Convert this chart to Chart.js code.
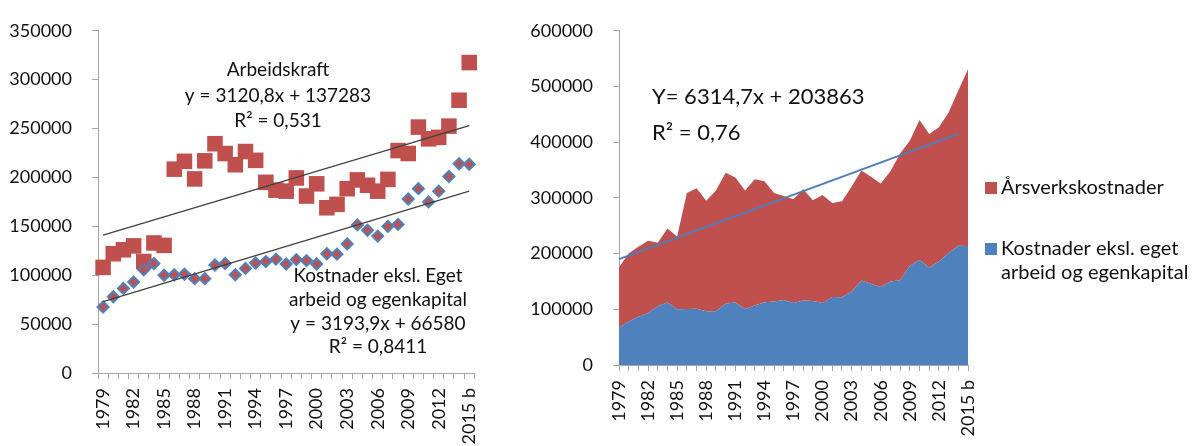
<!DOCTYPE html>
<html>
<head>
<meta charset="utf-8">
<script src="https://cdn.jsdelivr.net/npm/chart.js@4.4.1/dist/chart.umd.min.js"></script>
<style>
  html, body { margin: 0; padding: 0; background: #fff; }
  body { width: 1198px; height: 446px; position: relative; overflow: hidden; }
  #leftBox { position: absolute; left: 0; top: 0; width: 500px; height: 446px; }
  #rightBox { position: absolute; left: 520px; top: 0; width: 678px; height: 446px; }
</style>
</head>
<body>
<div id="leftBox"><canvas id="leftChart"></canvas></div>
<div id="rightBox"><canvas id="rightChart"></canvas></div>
<script>
// data
const years = ['1979','1980','1981','1982','1983','1984','1985','1986','1987','1988',
  '1989','1990','1991','1992','1993','1994','1995','1996','1997','1998','1999','2000',
  '2001','2002','2003','2004','2005','2006','2007','2008','2009','2010','2011','2012',
  '2013','2014','2015 b'];

const arbeidskraft = [108000, 122000, 126000, 130000, 114000, 133000, 130500, 208500, 216500, 198500,
  217000, 234500, 224500, 213000, 226500, 217500, 195000, 187000, 186000, 199500,
  181000, 193500, 169000, 172500, 188500, 197500, 192000, 186000, 198000, 227500,
  224500, 251500, 239500, 241000, 252500, 279000, 317500];

const kostnader = [67500, 78000, 86500, 93000, 105500, 112000, 100000, 100500, 101000, 96500,
  96500, 110500, 112000, 100500, 107000, 112500, 114000, 116500, 111500, 116000,
  115000, 111500, 122000, 121500, 132000, 151500, 146000, 140000, 150000, 152000,
  178000, 188500, 175000, 186000, 201000, 214000, 213500];

// trend line end points
const trendArbeidYears = ['1979', '2015 b'];
const trendArbeidValues = [141000, 253000];
const trendKostYears = ['1979', '2015 b'];
const trendKostValues = [73000, 186000];
const trendTotalYears = ['1979', '2014'];
const trendTotalValues = [190000, 415000];

const leftYTicks = [0, 50000, 100000, 150000, 200000, 250000, 300000, 350000];
const rightYTicks = [0, 100000, 200000, 300000, 400000, 500000, 600000];

const RED = '#C0504D';
const BLUE = '#4F81BD';
const AXIS = '#A6A6A6';

Chart.defaults.font.family = 'Lato';
Chart.defaults.font.size = 18;
Chart.defaults.color = '#111';

// text blocks (trend equations, legend) drawn on the canvas
const textPlugin = {
  id: 'texts',
  afterDraw(chart, args, opts) {
    const ctx = chart.ctx;
    ctx.save();
    (opts.items || []).forEach(it => {
      ctx.font = it.size + 'px Lato';
      ctx.fillStyle = '#111';
      ctx.textAlign = it.align || 'center';
      ctx.textBaseline = 'middle';
      it.lines.forEach((line, i) => ctx.fillText(line, it.x, it.y + i * it.gap));
    });
    (opts.legend || []).forEach(lg => {
      const ds = chart.data.datasets[lg.dataset];
      ctx.fillStyle = ds.backgroundColor;
      ctx.fillRect(lg.x, lg.y - 6, 12, 12);
      ctx.fillStyle = '#111';
      ctx.font = lg.size + 'px Lato';
      ctx.textAlign = 'left';
      ctx.textBaseline = 'middle';
      lg.lines.forEach((line, i) => ctx.fillText(line, lg.x + 16, lg.y + i * lg.gap));
    });
    ctx.restore();
  }
};

function fixWidth(w) { return s => { s.width = w; }; }
function fixHeight(h) { return s => { s.height = h; }; }
function setTicks(list) { return s => { s.ticks = list.map(v => ({ value: v })); }; }

function everyThird(val, i) { return i % 3 === 0 ? this.getLabelForValue(val) : ''; }
function plainNumber(v) { return String(v); }

// left chart: markers + trend lines
new Chart(document.getElementById('leftChart'), {
  type: 'line',
  data: {
    labels: years,
    datasets: [
      { label: 'Trend arbeidskraft', data: trendArbeidYears.map((x, i) => ({ x, y: trendArbeidValues[i] })),
        borderColor: '#404040', borderWidth: 1.2, pointRadius: 0, order: 0 },
      { label: 'Trend kostnader', data: trendKostYears.map((x, i) => ({ x, y: trendKostValues[i] })),
        borderColor: '#404040', borderWidth: 1.2, pointRadius: 0, order: 0 },
      { label: 'Kostnader eksl. Eget arbeid og egenkapital', data: kostnader, showLine: false,
        pointStyle: 'rectRot', pointRadius: 5.5, pointBackgroundColor: RED,
        pointBorderColor: BLUE, pointBorderWidth: 2, clip: false, order: 1 },
      { label: 'Arbeidskraft', data: arbeidskraft, showLine: false,
        pointStyle: 'rect', pointRadius: 11, pointBackgroundColor: RED,
        pointBorderColor: RED, pointBorderWidth: 0, clip: false, order: 2 }
    ]
  },
  options: {
    responsive: true,
    maintainAspectRatio: false,
    animation: false,
    layout: { padding: { top: 19, right: 8, left: 0, bottom: 0 } },
    plugins: {
      legend: { display: false },
      tooltip: { enabled: false },
      texts: {
        items: [
          { x: 278, y: 70, gap: 25.5, size: 19, lines: ['Arbeidskraft', 'y = 3120,8x + 137283', 'R² = 0,531'] },
          { x: 378, y: 276, gap: 23.7, size: 19, lines: ['Kostnader eksl. Eget', 'arbeid og egenkapital', 'y = 3193,9x + 66580', 'R² = 0,8411'] }
        ]
      }
    },
    scales: {
      x: {
        offset: true,
        grid: { offset: true, drawOnChartArea: false, tickLength: 6, color: AXIS },
        border: { color: AXIS },
        ticks: { autoSkip: false, maxRotation: 90, minRotation: 90, padding: 9, callback: everyThird },
        afterFit: fixHeight(73)
      },
      y: {
        min: 0, max: 350000,
        grid: { drawOnChartArea: false, tickLength: 6, color: AXIS },
        border: { color: AXIS },
        ticks: { padding: 20, callback: plainNumber },
        afterBuildTicks: setTicks(leftYTicks),
        afterFit: fixWidth(98)
      }
    }
  },
  plugins: [textPlugin]
});

// right chart: stacked areas + trend line
new Chart(document.getElementById('rightChart'), {
  type: 'line',
  data: {
    labels: years,
    datasets: [
      { label: 'Kostnader eksl. eget arbeid og egenkapital', data: kostnader,
        backgroundColor: BLUE, borderWidth: 0, pointRadius: 0, fill: 'origin', stack: 'area' },
      { label: 'Årsverkskostnader', data: arbeidskraft,
        backgroundColor: RED, borderWidth: 0, pointRadius: 0, fill: '-1', stack: 'area' },
      { label: 'Trend', data: trendTotalYears.map((x, i) => ({ x, y: trendTotalValues[i] })),
        borderColor: '#4A7EBB', borderWidth: 2, pointRadius: 0, fill: false, stack: 'trend', order: -1 }
    ]
  },
  options: {
    responsive: true,
    maintainAspectRatio: false,
    animation: false,
    layout: { padding: { top: 23, right: 230, left: 0, bottom: 0 } },
    plugins: {
      legend: { display: false },
      tooltip: { enabled: false },
      texts: {
        items: [
          { x: 132, y: 97, gap: 36, size: 22, align: 'left', lines: ['Y= 6314,7x + 203863', 'R² = 0,76'] }
        ],
        legend: [
          { dataset: 1, x: 465, y: 188, gap: 24, size: 20, lines: ['Årsverkskostnader'] },
          { dataset: 0, x: 465, y: 249, gap: 24, size: 20, lines: ['Kostnader eksl. eget', 'arbeid og egenkapital'] }
        ]
      }
    },
    scales: {
      x: {
        offset: false,
        grid: { offset: false, drawOnChartArea: false, tickLength: 6, color: AXIS },
        border: { color: AXIS },
        ticks: { autoSkip: false, maxRotation: 90, minRotation: 90, padding: 9, callback: everyThird },
        afterFit: fixHeight(81)
      },
      y: {
        stacked: true,
        min: 0, max: 600000,
        grid: { drawOnChartArea: false, tickLength: 6, color: AXIS },
        border: { color: AXIS },
        ticks: { padding: 20, callback: plainNumber },
        afterBuildTicks: setTicks(rightYTicks),
        afterFit: fixWidth(99)
      }
    }
  },
  plugins: [textPlugin]
});
</script>
</body>
</html>
